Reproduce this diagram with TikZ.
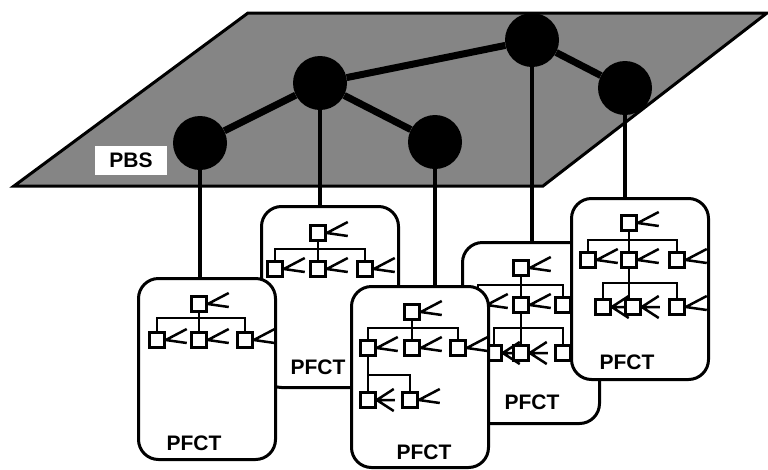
\documentclass[tikz,border=0pt]{standalone}
\usepackage{fontspec}
\setmainfont{Liberation Sans}
\usepackage{tikz}
\usetikzlibrary{positioning, calc}

\tikzset{
  fork/.pic={\draw[line width=2.5pt] (0,0) -- (21,-11) (0,0) -- (21,3);},
  fork3/.pic={\draw[line width=2.5pt] (0,0) -- (17,-11) (0,0) -- (18,0) (0,0) -- (17,11);}
}

\begin{document}
\begin{tikzpicture}[x=1pt, y=-1pt,
    plane/.style={draw, line width=3pt, fill=black!48, line join=miter},
    hub/.style={circle, fill=black, minimum size=54pt, inner sep=0pt},
    link/.style={line width=7pt},
    drop/.style={line width=4pt},
    fctbox/.style={draw, line width=3pt, rounded corners=20pt, fill=white, minimum width=137pt, minimum height=181pt},
    unit/.style={draw, line width=2.5pt, minimum size=15pt, inner sep=0pt, fill=white},
    tree/.style={line width=2.5pt},
    tag/.style={font=\fontsize{21}{21}\selectfont\bfseries, inner sep=0pt}
]
\useasboundingbox (0,0) rectangle (768,469);

% PBS plane
\draw[plane] (248,13) -- (767,13) -- (543,186) -- (14,186) -- cycle;
\node[tag, fill=white, minimum width=72pt, minimum height=29pt] (pbs) at (131,160) {PBS};

\node[hub] (hub1) at (200,143) {};
\node[hub] (hub2) at (320,83) {};
\node[hub] (hub3) at (435,142) {};
\node[hub] (hub4) at (532,40) {};
\node[hub] (hub5) at (625,88) {};

\draw[link] (hub1) -- (hub2);
\draw[link] (hub2) -- (hub3);
\draw[link] (hub2) -- (hub4);
\draw[link] (hub4) -- (hub5);

% PFCT B (back)
\node[fctbox] (boxB) at (330,297) {};
\node[tag] (tagB) at (318,367) {PFCT};
\node[unit] (b0) at (318,233) {}; \pic at (b0.east) {fork};
\foreach \n/\x in {b1/275, b2/318, b3/365} {
  \node[unit] (\n) at (\x,269) {}; \pic at (\n.east) {fork};
}
\draw[tree] (b0) -- (b2);
\draw[tree] (b1) -- ++(0,-20) -| (b3);

% PFCT A
\node[fctbox] (boxA) at (207,369) {};
\node[tag] (tagA) at (194,443) {PFCT};
\node[unit] (a0) at (199,304) {}; \pic at (a0.east) {fork};
\foreach \n/\x in {a1/157, a2/199, a3/245} {
  \node[unit] (\n) at (\x,340) {}; \pic at (\n.east) {fork};
}
\draw[tree] (a0) -- (a2);
\draw[tree] (a1) -- ++(0,-22) -| (a3);

% PFCT D (back)
\node[fctbox] (boxD) at (531,333) {};
\node[tag] (tagD) at (532,402) {PFCT};
\node[unit] (d0) at (521,268) {}; \pic at (d0.east) {fork};
\foreach \n/\x in {d1/478, d2/521, d3/563} {
  \node[unit] (\n) at (\x,305) {}; \pic at (\n.east) {fork};
}
\foreach \n/\x in {d4/494, d5/521, d6/563} {
  \node[unit] (\n) at (\x,353) {}; \pic at (\n.east) {fork3};
}
\draw[tree] (d0) -- (d2);
\draw[tree] (d1) -- ++(0,-20) -| (d3);
\draw[tree] (d2) -- (d5);
\draw[tree] (d4) -- ++(0,-25) -| (d6);

% PFCT C
\node[fctbox] (boxC) at (420,377) {};
\node[tag] (tagC) at (424,452) {PFCT};
\node[unit] (c0) at (412,312) {}; \pic at (c0.east) {fork};
\foreach \n/\x in {c1/368, c2/412, c3/458} {
  \node[unit] (\n) at (\x,348) {}; \pic at (\n.east) {fork};
}
\node[unit] (c4) at (368,400) {}; \pic at (c4.east) {fork3};
\node[unit] (c5) at (410,400) {}; \pic at (c5.east) {fork};
\draw[tree] (c0) -- (c2);
\draw[tree] (c1) -- ++(0,-20) -| (c3);
\draw[tree] (c1) -- (c4);
\draw[tree] (c5) -- ++(0,-25) -| (c1);

% PFCT E
\node[fctbox] (boxE) at (640,289) {};
\node[tag] (tagE) at (627,362) {PFCT};
\node[unit] (e0) at (629,223) {}; \pic at (e0.east) {fork};
\foreach \n/\x in {e1/588, e2/629, e3/677} {
  \node[unit] (\n) at (\x,260) {}; \pic at (\n.east) {fork};
}
\node[unit] (e4) at (603,307) {}; \pic at (e4.east) {fork3};
\node[unit] (e5) at (633,307) {}; \pic at (e5.east) {fork3};
\node[unit] (e6) at (677,307) {}; \pic at (e6.east) {fork};
\draw[tree] (e0) -- (e2);
\draw[tree] (e1) -- ++(0,-20) -| (e3);
\draw[tree] (e2) -- (e2 |- e5.north);
\draw[tree] (e4) -- ++(0,-24) -| (e6);

% drops from PBS nodes
\draw[drop] (hub1) -- (hub1 |- boxA.north);
\draw[drop] (hub2) -- (hub2 |- boxB.north);
\draw[drop] (hub3) -- (hub3 |- boxC.north);
\draw[drop] (hub4) -- (hub4 |- boxD.north);
\draw[drop] (hub5) -- (hub5 |- boxE.north);

\end{tikzpicture}
\end{document}
